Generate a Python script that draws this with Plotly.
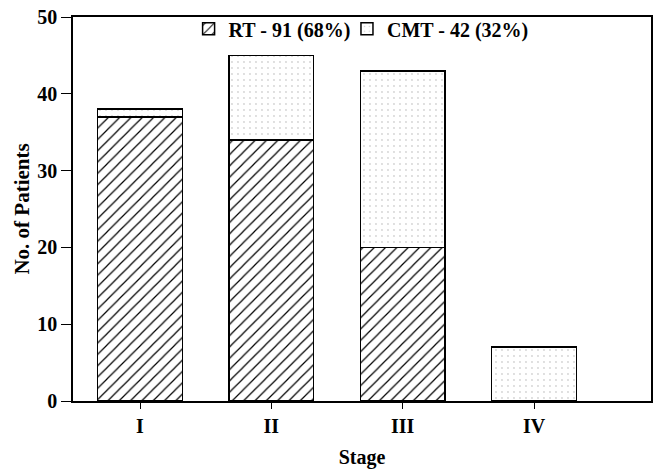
import plotly.graph_objects as go

stages = ["I", "II", "III", "IV"]
rt_values = [37, 34, 20, None]
cmt_values = [1, 11, 23, 7]
rt_label = "RT - 91 (68%)"
cmt_label = "CMT - 42 (32%)"
y_ticks = [0, 10, 20, 30, 40, 50]

font_family = "Liberation Serif"
bold = "bold"

fig = go.Figure()
fig.add_trace(go.Bar(
    x=stages, y=rt_values, name=rt_label, legend="legend",
    marker=dict(color="white", line=dict(color="black", width=1.5),
                pattern=dict(shape="/", fgcolor="black", bgcolor="white", size=8,
                             solidity=0.15, fgopacity=1)),
    width=0.645,
))
fig.add_trace(go.Bar(
    x=stages, y=cmt_values, name=cmt_label, legend="legend2",
    marker=dict(color="white", line=dict(color="black", width=1.5),
                pattern=dict(shape=".", fgcolor="#aaaaaa", bgcolor="white", size=6, solidity=0.08)),
    width=0.645,
))

legend_common = dict(orientation="h", y=1.02, xanchor="left", yanchor="top",
                     bgcolor="rgba(0,0,0,0)",
                     font=dict(size=20, family=font_family, weight=bold),
                     itemwidth=30)

fig.update_layout(
    barmode="stack",
    width=654, height=469,
    margin=dict(l=73, r=1, t=17, b=68),
    plot_bgcolor="white", paper_bgcolor="white",
    font=dict(family=font_family, size=20, color="black", weight=bold),
    showlegend=True,
    legend=dict(x=0.2, **legend_common),
    legend2=dict(x=0.474, **legend_common),
    xaxis=dict(range=[-0.51, 3.89], showline=True, linecolor="black", linewidth=1.5,
               mirror=True, ticks="outside", ticklen=6, tickcolor="black",
               title=dict(text="Stage", font=dict(size=20, weight=bold), standoff=14),
               tickfont=dict(size=20, weight=bold)),
    yaxis=dict(range=[0, 50], tickvals=y_ticks, showline=True, linecolor="black", linewidth=1.5,
               mirror=True, ticks="outside", ticklen=10, tickcolor="black", showgrid=False,
               zeroline=False,
               title=dict(text="No. of Patients", font=dict(size=21, weight=bold), standoff=2),
               tickfont=dict(size=20, weight=bold)),
)

fig.write_html(
    "out.html",
    config={"displayModeBar": False},
    post_script="document.body.style.margin='0';document.body.style.overflow='hidden';",
)
